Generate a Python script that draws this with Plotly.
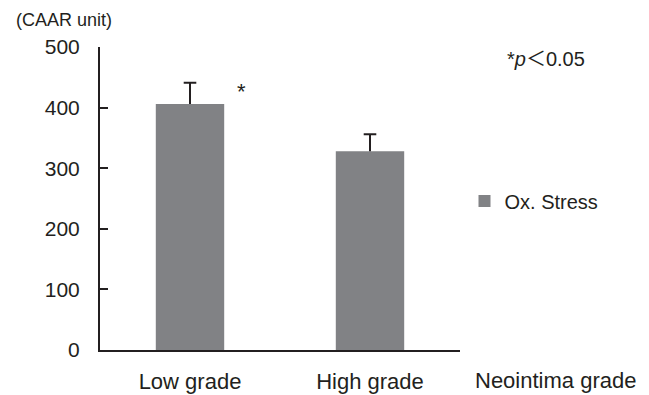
import plotly.graph_objects as go

categories = ["Low grade", "High grade"]
values = [406, 328]
errors_up = [35, 28]
series_name = "Ox. Stress"
y_ticks = [0, 100, 200, 300, 400, 500]

FONT = "Liberation Sans, Arial, sans-serif"
INK = "#231f20"
BAR = "#818285"

tops = [v + e for v, e in zip(values, errors_up)]

fig = go.Figure()
fig.add_trace(go.Bar(
    x=categories,
    y=values,
    name=series_name,
    width=0.38,
    marker=dict(color=BAR, line=dict(width=0)),
    showlegend=True,
))
# upper whisker: vertical stem from bar top plus a cap at the top only
fig.add_trace(go.Scatter(
    x=categories,
    y=tops,
    mode="markers",
    marker=dict(symbol="line-ew", size=9, color=INK,
                line=dict(color=INK, width=2)),
    error_y=dict(type="data", symmetric=False, array=[0] * len(values),
                 arrayminus=errors_up, color=INK, thickness=2, width=0),
    showlegend=False,
    hoverinfo="skip",
))

# the page body has an 8px default margin, so the figure is sized to fit
fig.update_layout(
    width=641, height=387,
    margin=dict(l=92, r=189, t=39, b=45, autoexpand=False),
    paper_bgcolor="white", plot_bgcolor="white",
    font=dict(family=FONT, color=INK),
    showlegend=True,
    legend=dict(x=1.0125, y=0.492, xanchor="left", yanchor="middle",
                font=dict(size=20, family=FONT, color=INK),
                bgcolor="rgba(0,0,0,0)", borderwidth=0),
    xaxis=dict(range=[-0.5, 1.5], showline=True, linecolor=INK, linewidth=2,
               ticks="", showgrid=False, zeroline=False,
               tickfont=dict(size=22, family=FONT, color=INK),
               ticklabelstandoff=11),
    yaxis=dict(range=[0, 500], tickvals=y_ticks, showline=True, linecolor=INK,
               linewidth=2, ticks="inside", ticklen=8, tickwidth=2,
               tickcolor=INK, showgrid=False, zeroline=False,
               tickfont=dict(size=21, family=FONT, color=INK),
               ticklabelstandoff=14),
)

fig.add_annotation(text="(CAAR unit)", xref="paper", yref="paper",
                   x=-0.24, y=1.089, xanchor="left", yanchor="middle",
                   showarrow=False, font=dict(size=18, family=FONT, color=INK))
fig.add_annotation(text="*<i>p</i><span style=\"font-family:'Noto Sans CJK JP'\">＜</span>0.05",
                   xref="paper", yref="paper",
                   x=1.125, y=0.964, xanchor="left", yanchor="middle",
                   showarrow=False, font=dict(size=20, family=FONT, color=INK))
fig.add_annotation(text="*", xref="paper", yref="y",
                   x=0.392, y=426, xanchor="center", yanchor="middle",
                   showarrow=False, font=dict(size=22, family=FONT, color=INK))
fig.add_annotation(text="Neointima grade", xref="paper", yref="paper",
                   x=1.036, y=-0.102, xanchor="left", yanchor="middle",
                   showarrow=False, font=dict(size=22, family=FONT, color=INK))

fig.write_html("out.html")
